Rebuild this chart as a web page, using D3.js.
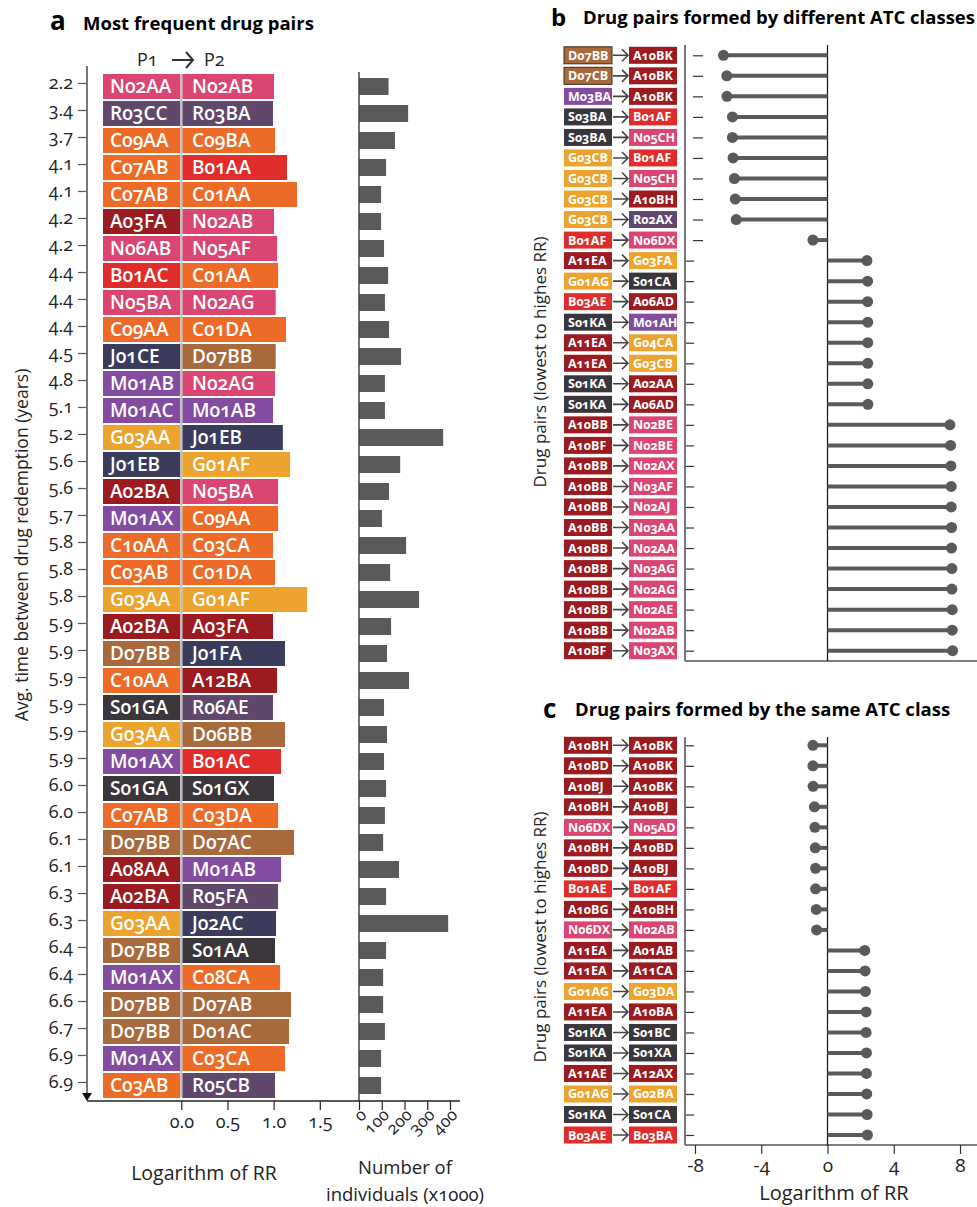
<!DOCTYPE html>
<html><head><meta charset="utf-8">
<script src="https://cdn.jsdelivr.net/npm/d3@7"></script>
<style>
body{margin:0;background:#fff;}
svg{font-family:"Open Sans","Noto Sans",sans-serif;font-variant-numeric:oldstyle-nums;font-feature-settings:"onum" 1;}
</style></head><body>
<svg id="chart" width="977" height="1207"></svg>
<script>
// ---------- Panel a data ----------
const aTimes = ["2.2","3.4","3.7","4.1","4.1","4.2","4.2","4.4","4.4","4.4","4.5","4.8","5.1","5.2","5.6","5.6","5.7","5.8","5.8","5.8","5.9","5.9","5.9","5.9","5.9","5.9","6.0","6.0","6.1","6.1","6.3","6.3","6.4","6.4","6.6","6.7","6.9","6.9"];
const aP1 = ["N02AA","R03CC","C09AA","C07AB","C07AB","A03FA","N06AB","B01AC","N05BA","C09AA","J01CE","M01AB","M01AC","G03AA","J01EB","A02BA","M01AX","C10AA","C03AB","G03AA","A02BA","D07BB","C10AA","S01GA","G03AA","M01AX","S01GA","C07AB","D07BB","A08AA","A02BA","G03AA","D07BB","M01AX","D07BB","D07BB","M01AX","C03AB"];
const aP2 = ["N02AB","R03BA","C09BA","B01AA","C01AA","N02AB","N05AF","C01AA","N02AG","C01DA","D07BB","N02AG","M01AB","J01EB","G01AF","N05BA","C09AA","C03CA","C01DA","G01AF","A03FA","J01FA","A12BA","R06AE","D06BB","B01AC","S01GX","C03DA","D07AC","M01AB","R05FA","J02AC","S01AA","C08CA","D07AB","D01AC","C03CA","R05CB"];
const aLogRR = [1.004,0.993,1.015,1.145,1.253,1.004,1.037,1.048,1.022,1.134,1.022,1.015,0.993,1.100,1.178,1.048,1.048,0.993,1.015,1.362,0.993,1.123,1.037,0.993,1.123,1.080,1.004,1.048,1.221,1.080,1.048,1.026,1.015,1.070,1.188,1.167,1.123,1.015];
const aCount = [130,216,158,119,97,97,110,128,114,132,185,114,114,370,181,132,101,207,137,264,141,123,220,110,123,110,119,114,106,176,119,392,119,106,106,114,97,97];
const aRRTicks = [0,0.5,1.0,1.5];
const aCountTicks = [0,100,200,300,400];

// ---------- Panel b data ----------
const bFrom = ["D07BB","D07CB","M03BA","S03BA","S03BA","G03CB","G03CB","G03CB","G03CB","B01AF","A11EA","G01AG","B03AE","S01KA","A11EA","A11EA","S01KA","S01KA","A10BB","A10BF","A10BB","A10BB","A10BB","A10BB","A10BB","A10BB","A10BB","A10BB","A10BB","A10BF"];
const bTo = ["A10BK","A10BK","A10BK","B01AF","N05CH","B01AF","N05CH","A10BH","R02AX","N06DX","G03FA","S01CA","A06AD","M01AH","G04CA","G03CB","A02AA","A06AD","N02BE","N02BE","N02AX","N03AF","N02AJ","N03AA","N02AA","N03AG","N02AG","N02AE","N02AB","N03AX"];
const bLogRR = [-6.28,-6.08,-6.07,-5.74,-5.74,-5.70,-5.62,-5.57,-5.51,-0.88,2.38,2.42,2.42,2.43,2.43,2.43,2.43,2.44,7.39,7.43,7.45,7.47,7.47,7.49,7.49,7.51,7.51,7.53,7.53,7.55];

// ---------- Panel c data ----------
const cFrom = ["A10BH","A10BD","A10BJ","A10BH","N06DX","A10BH","A10BD","B01AE","A10BG","N06DX","A11EA","A11EA","G01AG","A11EA","S01KA","S01KA","A11AE","G01AG","S01KA","B03AE"];
const cTo = ["A10BK","A10BK","A10BK","A10BJ","N05AD","A10BD","A10BJ","B01AF","A10BH","N02AB","A01AB","A11CA","G03DA","A10BA","S01BC","S01XA","A12AX","G02BA","S01CA","B03BA"];
const cLogRR = [-0.88,-0.88,-0.87,-0.79,-0.76,-0.74,-0.72,-0.72,-0.68,-0.66,2.25,2.27,2.29,2.33,2.33,2.35,2.35,2.37,2.39,2.41];
const lolliTicks = [-8,-4,0,4,8];

// ---------- styles ----------
const atcColor = {A:"#9b1b20",B:"#e02d2b",C:"#ed6a27",D:"#a8693c",G:"#eca42f",J:"#3b3c5c",M:"#834ca0",N:"#db4571",R:"#5f486c",S:"#3a363c"};
const col = code => atcColor[code[0]];
const grey = "#5a5a5a";
const FONT = "\"Open Sans\",sans-serif";

const svg = d3.select("#chart");

// ================= Panel a =================
const yA = d3.scaleBand().domain(d3.range(aP1.length))
  .range([73, 73 + 27 * aP1.length]).paddingInner(2/27).paddingOuter(1/27);
const xRR = d3.scaleLinear().domain([0, 1.5]).range([181.3, 319.8]);
const xCnt = d3.scaleLinear().domain([0, 400]).range([359, 450]);

svg.append("text").attr("x", 50).attr("y", 30).attr("font-size", 26).attr("font-weight", 700).text("a");
svg.append("text").attr("x", 83).attr("y", 30).attr("font-size", 18.5).attr("font-weight", 700).text("Most frequent drug pairs");

// header P1 -> P2
svg.append("text").attr("x", 137).attr("y", 66).attr("font-size", 18).attr("fill","#222").text("P1");
svg.append("text").attr("x", 204).attr("y", 66).attr("font-size", 18).attr("fill","#222").text("P2");
svg.append("path").attr("d","M172,60 L192,60 M186,52 L193,60 L186,68").attr("fill","none").attr("stroke","#333").attr("stroke-width",2);

const rowsA = svg.append("g");
const rA = rowsA.selectAll("g").data(aP1).join("g");
rA.append("rect").attr("x",103).attr("y",(d,i)=>yA(i)).attr("width",xRR(0)-1-103).attr("height",yA.bandwidth())
  .attr("fill",d=>col(d));
rA.append("rect").attr("x",xRR(0)+1).attr("y",(d,i)=>yA(i)).attr("width",(d,i)=>xRR(aLogRR[i])-xRR(0)-1).attr("height",yA.bandwidth())
  .attr("fill",(d,i)=>col(aP2[i]));
rA.append("text").attr("x",110).attr("y",(d,i)=>yA(i)+yA.bandwidth()/2).attr("dy","0.36em")
  .attr("fill","#fff").attr("font-size",19).attr("font-weight",600).text(d=>d);
rA.append("text").attr("x",192).attr("y",(d,i)=>yA(i)+yA.bandwidth()/2).attr("dy","0.36em")
  .attr("fill","#fff").attr("font-size",19).attr("font-weight",600).text((d,i)=>aP2[i]);
// separator
svg.append("line").attr("x1",xRR(0)).attr("x2",xRR(0)).attr("y1",74).attr("y2",1097).attr("stroke","#bdbdbd").attr("stroke-width",2);

// counts
svg.append("g").selectAll("rect").data(aCount).join("rect")
  .attr("x",xCnt(0)).attr("y",(d,i)=>yA(i)+yA.bandwidth()/2-8.5).attr("width",d=>xCnt(d)-xCnt(0)).attr("height",17).attr("fill",grey);
svg.append("line").attr("x1",xCnt(0)).attr("x2",xCnt(0)).attr("y1",72).attr("y2",1101).attr("stroke","#444").attr("stroke-width",1.5);

// left axis
const gAy = svg.append("g").attr("transform","translate(87,-3)")
  .call(d3.axisLeft(yA).tickFormat(i=>aTimes[i]).tickSize(9).tickPadding(5));
gAy.select(".domain").remove();
gAy.selectAll(".tick line").attr("stroke","#555").attr("stroke-width",1.2);
gAy.selectAll(".tick text").attr("font-size",18).attr("fill","#222").attr("font-family",FONT);
svg.append("line").attr("x1",87).attr("x2",87).attr("y1",66).attr("y2",1095).attr("stroke","#777").attr("stroke-width",2);
svg.append("path").attr("d","M82,1093 L92,1093 L87,1101 Z").attr("fill","#111");

// bottom axes
svg.append("line").attr("x1",87).attr("x2",460).attr("y1",1101).attr("y2",1101).attr("stroke","#222").attr("stroke-width",1.5);
const gRR = svg.append("g").attr("transform","translate(0,1101)")
  .call(d3.axisBottom(xRR).tickValues(aRRTicks).tickFormat(d3.format(".1f")).tickSize(9).tickPadding(5));
gRR.select(".domain").remove();
gRR.selectAll(".tick line").attr("stroke","#222").attr("stroke-width",1.2);
gRR.selectAll(".tick text").attr("font-size",18).attr("fill","#222").attr("font-family",FONT);
const gCnt = svg.append("g").attr("transform","translate(0,1101)")
  .call(d3.axisBottom(xCnt).tickValues(aCountTicks).tickSize(9));
gCnt.select(".domain").remove();
gCnt.selectAll(".tick line").attr("stroke","#222").attr("stroke-width",1.2);
gCnt.selectAll(".tick text").attr("font-size",17).attr("fill","#222").attr("font-family",FONT)
  .attr("text-anchor","end").attr("dy",0).attr("y",0)
  .attr("transform","translate(8,15) rotate(-45)");

svg.append("text").attr("x",204).attr("y",1180).attr("text-anchor","middle").attr("font-size",19.5).attr("fill","#222").text("Logarithm of RR");
svg.append("text").attr("x",405).attr("y",1174).attr("text-anchor","middle").attr("font-size",18.5).attr("fill","#222").text("Number of");
svg.append("text").attr("x",326).attr("y",1201).attr("font-size",18.5).attr("fill","#222").text("individuals (x1000)");
svg.append("text").attr("transform","translate(28,545) rotate(-90)").attr("text-anchor","middle").attr("font-size",17.5).attr("fill","#222")
  .text("Avg. time between drug redemption (years)");

// ================= Panels b & c =================
const xL = d3.scaleLinear().domain([-8, 8]).range([695, 960]);

function lolli(opts){
  const {from, to, vals, y0, y1, top, bottom, detachNeg} = opts;
  const y = d3.scalePoint().domain(d3.range(from.length)).range([y0, y1]);
  const g = svg.append("g");
  // boxes
  const r = g.selectAll("g.row").data(from).join("g").attr("class","row");
  r.append("rect").attr("x",564).attr("y",(d,i)=>y(i)-8.5).attr("width",48).attr("height",17).attr("fill",d=>col(d))
    .attr("stroke",d=>d.startsWith("D07")?"#3d2a1a":"none").attr("stroke-width",1);
  r.append("rect").attr("x",629).attr("y",(d,i)=>y(i)-8.5).attr("width",48).attr("height",17).attr("fill",(d,i)=>col(to[i]));
  r.append("text").attr("x",568).attr("y",(d,i)=>y(i)).attr("dy","0.36em").attr("fill","#fff").attr("font-size",12.5).attr("font-weight",700).text(d=>d);
  r.append("text").attr("x",633).attr("y",(d,i)=>y(i)).attr("dy","0.36em").attr("fill","#fff").attr("font-size",12.5).attr("font-weight",700).text((d,i)=>to[i]);
  r.append("path").attr("d",(d,i)=>`M613,${y(i)} L627,${y(i)} M622,${y(i)-6} L628,${y(i)} L622,${y(i)+6}`)
    .attr("fill","none").attr("stroke","#444").attr("stroke-width",1.6);
  // axis ticks
  const ga = g.append("g").attr("transform","translate(685,0)").call(d3.axisRight(y).tickSize(9).tickFormat(""));
  ga.select(".domain").remove();
  ga.selectAll(".tick line").attr("stroke","#333").attr("stroke-width",1.2)
    .attr("x1",(i)=>detachNeg && vals[i]<0 ? 8 : 0)
    .attr("x2",(i)=>detachNeg && vals[i]<0 ? 18 : 9);
  g.append("line").attr("x1",685).attr("x2",685).attr("y1",top).attr("y2",bottom).attr("stroke","#777").attr("stroke-width",2);
  g.append("line").attr("x1",685).attr("x2",977).attr("y1",bottom).attr("y2",bottom).attr("stroke","#555").attr("stroke-width",1.5);
  g.append("line").attr("x1",xL(0)).attr("x2",xL(0)).attr("y1",top).attr("y2",bottom).attr("stroke","#111").attr("stroke-width",1.2);
  // lollipops
  g.selectAll("line.stem").data(vals).join("line").attr("class","stem")
    .attr("x1",xL(0)).attr("x2",d=>xL(d)).attr("y1",(d,i)=>y(i)).attr("y2",(d,i)=>y(i))
    .attr("stroke",grey).attr("stroke-width",4);
  g.selectAll("circle").data(vals).join("circle").attr("cx",d=>xL(d)).attr("cy",(d,i)=>y(i)).attr("r",5.5).attr("fill",grey);
  return g;
}

svg.append("text").attr("x",551).attr("y",26).attr("font-size",24).attr("font-weight",700).text("b");
svg.append("text").attr("x",583).attr("y",24).attr("font-size",18.5).attr("font-weight",700).text("Drug pairs formed by different ATC classes");
lolli({from:bFrom,to:bTo,vals:bLogRR,y0:55.3,y1:650.7,top:45,bottom:661,detachNeg:true});
svg.append("text").attr("transform","translate(546,362) rotate(-90)").attr("text-anchor","middle").attr("font-size",17).attr("fill","#222")
  .text("Drug pairs (lowest to highes RR)");

svg.append("text").attr("x",543).attr("y",718).attr("font-size",26).attr("font-weight",700).text("c");
svg.append("text").attr("x",575).attr("y",716).attr("font-size",18.5).attr("font-weight",700).text("Drug pairs formed by the same ATC class");
lolli({from:cFrom,to:cTo,vals:cLogRR,y0:745.3,y1:1135,top:737,bottom:1145,detachNeg:false});
svg.append("text").attr("transform","translate(546,937) rotate(-90)").attr("text-anchor","middle").attr("font-size",17).attr("fill","#222")
  .text("Drug pairs (lowest to highes RR)");
const gc = svg.append("g").attr("transform","translate(0,1145)")
  .call(d3.axisBottom(xL).tickValues(lolliTicks).tickSize(9).tickPadding(5).tickFormat(d=>String(d)));
gc.select(".domain").remove();
gc.selectAll(".tick line").attr("stroke","#333").attr("stroke-width",1.2);
gc.selectAll(".tick text").attr("font-size",19).attr("fill","#222").attr("font-family",FONT);
svg.append("text").attr("x",834).attr("y",1200).attr("text-anchor","middle").attr("font-size",20).attr("fill","#222").text("Logarithm of RR");
</script>
</body></html>
